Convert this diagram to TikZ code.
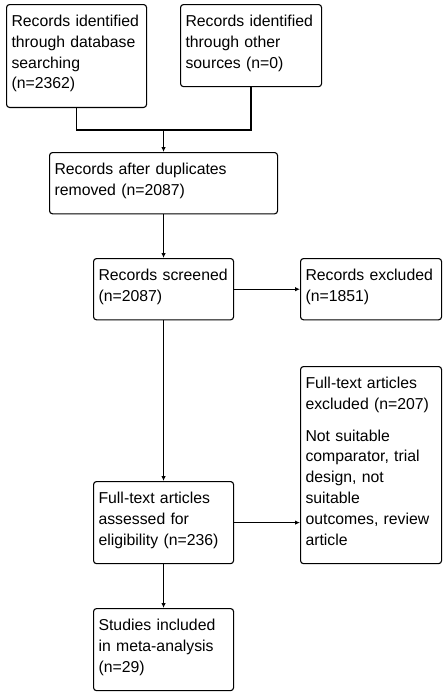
\documentclass[tikz,border=0pt]{standalone}
\usepackage{fontspec}
\setmainfont{Liberation Sans}
\usepackage{tikz}
\usetikzlibrary{arrows.meta}

\begin{document}
\begin{tikzpicture}[x=1pt,y=-1pt,
    box/.style={draw,rounded corners=3pt,line width=1.1pt,anchor=north west,align=left,
      inner xsep=5pt,inner ysep=0pt,font=\fontsize{15.8}{20.8}\selectfont,
      execute at begin node={\rule{0pt}{22pt}},
      execute at end node={\rule[-18.5pt]{0pt}{0pt}}},
    arr/.style={line width=1.4pt,-{Latex[length=5pt,width=4.5pt]}}]
    \useasboundingbox (0,0) rectangle (447,696);

    \node (Dbase) at (6,4) [box,text width=130pt] {Records identified\\through database\\searching\\(n=2362)};
    \node (Other) at (180,4) [box,text width=131pt] {Records identified\\through other\\sources (n=0)};
    \node (Dupl) at (49,152) [box,text width=218pt] {Records after duplicates\\removed (n=2087)};
    \node (Screen) at (93,258) [box,text width=130pt] {Records screened\\(n=2087)};
    \node (Excl) at (300,258) [box,text width=131pt] {Records excluded\\(n=1851)};
    \node (FTexcl) at (300,366) [box,text width=131pt] {Full-text articles\\excluded (n=207)\\[11pt]Not suitable\\comparator, trial\\design, not\\suitable\\outcomes, review\\article};
    \node (Assess) at (93,481) [box,text width=130pt] {Full-text articles\\assessed for\\eligibility (n=236)};
    \node (Incl) at (93,608) [box,text width=130pt] {Studies included\\in meta-analysis\\(n=29)};

    \coordinate (Join) at (Dupl.north |- 0,130);
    \draw[line width=1.4pt] (Dbase.south) |- (Join) -| (Other.south);
    \draw[arr] (Join) -- (Dupl.north);
    \draw[arr] (Dupl.south) -- (Screen.north);
    \draw[arr] (Screen.east) -- (Screen.east -| Excl.west);
    \draw[arr] (Screen.south) -- (Assess.north);
    \draw[arr] (Assess.east) -- (Assess.east -| FTexcl.west);
    \draw[arr] (Assess.south) -- (Incl.north);
\end{tikzpicture}
\end{document}
